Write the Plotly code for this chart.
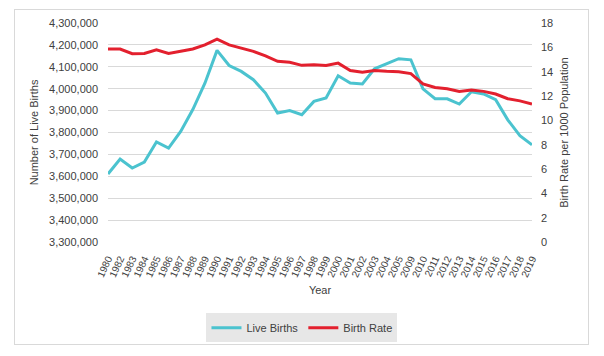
import plotly.graph_objects as go

years = ["1980", "1982", "1983", "1984", "1985", "1986", "1987", "1988", "1989", "1990",
         "1991", "1992", "1993", "1994", "1995", "1996", "1997", "1998", "1999", "2000",
         "2001", "2002", "2003", "2004", "2005", "2009", "2010", "2011", "2012", "2013",
         "2014", "2015", "2016", "2017", "2018", "2019"]

live_births = [3610500, 3679000, 3638000, 3665000, 3757000, 3729000, 3805000, 3905000, 4025000, 4175000,
               4106000, 4079000, 4041000, 3980000, 3889000, 3900000, 3881000, 3942000, 3957500, 4059000,
               4026000, 4021500, 4091000, 4113000, 4137000, 4132000, 3999000, 3954000, 3954000, 3930000,
               3986000, 3976000, 3950000, 3858000, 3785000, 3744000]

birth_rate = [15.86, 15.86, 15.48, 15.5, 15.8, 15.5, 15.67, 15.86, 16.2, 16.68,
              16.2, 15.95, 15.67, 15.3, 14.85, 14.77, 14.52, 14.57, 14.5, 14.7,
              14.1, 13.95, 14.1, 14.03, 14.0, 13.84, 13.0, 12.7, 12.6, 12.38,
              12.5, 12.38, 12.16, 11.78, 11.6, 11.34]

left_ticks = list(range(3300000, 4300001, 100000))
right_ticks = list(range(0, 19, 2))

FONT = "Liberation Sans"
TXT = "#404040"

fig = go.Figure()
fig.add_trace(go.Scatter(x=years, y=live_births, name="Live Births", mode="lines",
                         line=dict(color="#4BC3CF", width=3), yaxis="y"))
fig.add_trace(go.Scatter(x=years, y=birth_rate, name="Birth Rate", mode="lines",
                         line=dict(color="#E3202E", width=3), yaxis="y2"))

fig.update_layout(
    width=604, height=356,
    margin=dict(l=108, r=72, t=23, b=114),
    paper_bgcolor="white", plot_bgcolor="white",
    font=dict(family=FONT, size=11, color=TXT),
    showlegend=True,
    legend=dict(orientation="h", x=0.4575, xanchor="center", y=-0.325, yanchor="top",
                bgcolor="#E7E7E7", font=dict(size=11, color=TXT),
                itemwidth=30, tracegroupgap=0),
    xaxis=dict(type="category", tickangle=-65, tickfont=dict(size=10), automargin=False,
               showgrid=False, showline=False, ticks="", ticklabelstandoff=8,
               title=dict(text="Year", font=dict(size=11), standoff=8)),
    yaxis=dict(range=[3300000, 4300000], tickvals=left_ticks, tickformat=",", automargin=False,
               showgrid=True, gridcolor="#D9D9D9", gridwidth=1, zeroline=False,
               ticks="", ticklabelstandoff=9,
               title=dict(text="Number of Live Births", font=dict(size=11), standoff=8)),
    yaxis2=dict(range=[0, 18], tickvals=right_ticks, overlaying="y", side="right", automargin=False,
                showgrid=False, zeroline=False, ticks="", ticklabelstandoff=8,
                title=dict(text="Birth Rate per 1000 Population", font=dict(size=11), standoff=8)),
)

frame_js = (
    "document.body.style.margin='0';document.body.style.overflow='hidden';"
    "var f=document.createElement('div');"
    "f.style.cssText='position:absolute;left:14px;top:9px;width:575px;height:336px;"
    "border:1px solid #D9D9D9;pointer-events:none;box-sizing:border-box;';"
    "document.body.appendChild(f);"
)

fig.write_html("out.html", config={"displayModeBar": False}, post_script=frame_js)
